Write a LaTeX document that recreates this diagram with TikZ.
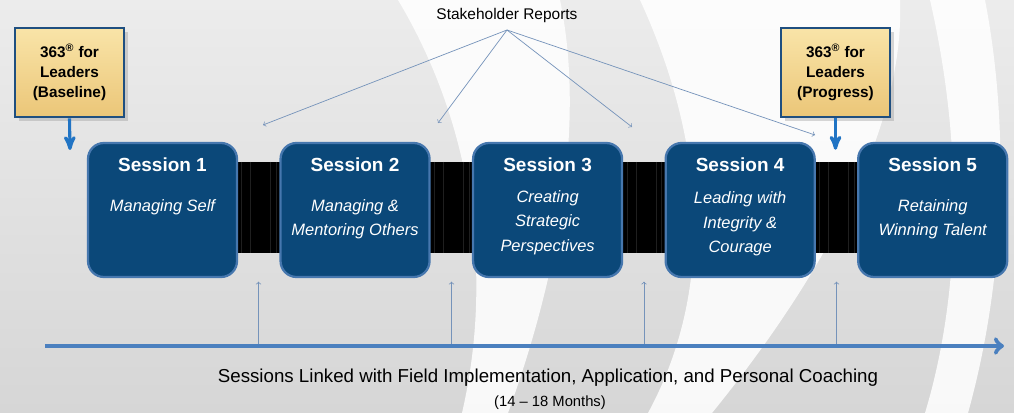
\documentclass[tikz,border=0pt]{standalone}
\usepackage{fontspec}
\setmainfont{Liberation Sans}
\usepackage{tikz}
\usetikzlibrary{arrows}
\usetikzlibrary{positioning,shapes,shadows}

\definecolor{navy}{HTML}{0B4879}
\definecolor{glow}{HTML}{4677AE}
\definecolor{tanlight}{HTML}{F9E4A8}
\definecolor{tandark}{HTML}{EBC678}
\definecolor{tanrim}{HTML}{1F4F80}
\definecolor{timeblue}{HTML}{4B80BF}
\definecolor{thinblue}{HTML}{7593BA}
\definecolor{dropblue}{HTML}{2174C4}
\definecolor{bgtop}{HTML}{ECECEC}
\definecolor{bgbottom}{HTML}{D6D6D6}

\tikzset{
  session/.style={rectangle, rounded corners=0.4cm, fill=navy, draw=glow,
    line width=1.6pt, minimum width=3.725cm, minimum height=3.35cm},
  stitle/.style={text=white, inner sep=0pt,
    font=\fontsize{13.5}{16}\selectfont\bfseries},
  stext/.style={text=white, inner sep=0pt, align=center,
    font=\fontsize{11.7}{17.4}\selectfont\itshape},
  gap/.style={rectangle, fill=black, inner sep=0pt,
    minimum width=1.075cm, minimum height=2.275cm,
    path picture={
      \foreach \dx in {-0.42,-0.2,0.3,0.44}
        \draw[black!88!white, line width=0.3pt]
          ([xshift=\dx cm]path picture bounding box.north) --
          ([xshift=\dx cm]path picture bounding box.south);}},
  survey/.style={rectangle, top color=tanlight, bottom color=tandark,
    draw=tanrim, line width=2pt, minimum width=2.725cm,
    minimum height=2.225cm, align=center,
    font=\fontsize{10.9}{14.2}\selectfont\bfseries,
    drop shadow={opacity=0.3}},
  report/.style={->, draw=thinblue, line width=0.5pt},
  link/.style={->, draw=thinblue, line width=0.5pt, shorten >=2.5pt},
  drop/.style={->, >=stealth', draw=dropblue, line width=2.2pt},
  timeline/.style={->, >=to, draw=timeblue, line width=3.2pt}
}

\begin{document}
\begin{tikzpicture}[x=0.025cm, y=-0.025cm, node distance=4.8125cm]

  % backdrop with the light curved bands
  \useasboundingbox (0,0) rectangle (1014,413);
  \shade[top color=bgtop, bottom color=bgbottom] (0,0) rectangle (1014,413);
  \fill[white, opacity=0.85] (398,0) .. controls (470,120) and (495,270) .. (462,413)
    -- (508,413) .. controls (560,270) and (585,120) .. (560,0) -- cycle;
  \fill[white, opacity=0.85] (640,0) .. controls (700,130) and (720,280) .. (648,413)
    -- (712,413) .. controls (820,280) and (905,130) .. (900,0) -- cycle;
  \fill[white, opacity=0.85] (930,0) .. controls (960,130) and (965,280) .. (925,413)
    -- (968,413) .. controls (1005,280) and (1010,130) .. (985,0) -- cycle;

  % black links between the sessions
  \node[gap] (g1) at (258.5,207.5) {};
  \node[gap] (g2) at (451.5,207.5) {};
  \node[gap] (g3) at (644,207.5) {};
  \node[gap] (g4) at (836.5,207.5) {};

  % sessions
  \node[session] (s1) at (162.5,210) {};
  \node[session] (s2) [right of=s1] {};
  \node[session] (s3) [right of=s2] {};
  \node[session] (s4) [right of=s3] {};
  \node[session] (s5) [right of=s4] {};

  \node[stitle] (t1) at ([yshift=-0.5625cm]s1.north) {Session 1};
  \node[stitle] (t2) at ([yshift=-0.5625cm]s2.north) {Session 2};
  \node[stitle] (t3) at ([yshift=-0.5625cm]s3.north) {Session 3};
  \node[stitle] (t4) at ([yshift=-0.5625cm]s4.north) {Session 4};
  \node[stitle] (t5) at ([yshift=-0.5625cm]s5.north) {Session 5};

  \node[stext] (d1) at ([yshift=0.075cm]s1.center) {Managing Self};
  \node[stext] (d2) at ([yshift=-0.2375cm]s2.center) {Managing \&\\Mentoring Others};
  \node[stext] (d3) at ([yshift=-0.3125cm]s3.center) {Creating\\Strategic\\Perspectives};
  \node[stext] (d4) at ([yshift=-0.35cm]s4.center) {Leading with\\Integrity \&\\Courage};
  \node[stext] (d5) at ([yshift=-0.2375cm]s5.center) {Retaining\\Winning Talent};

  % 363 surveys
  \node[survey] (base) at (69.5,72.5) {363\textsuperscript{®} for\\Leaders\\(Baseline)};
  \node[survey] (prog) at (835.5,72.5) {363\textsuperscript{®} for\\Leaders\\(Progress)};
  \coordinate (bend) at (70,150);
  \draw[drop] (base.south) -- (bend);
  \draw[drop, shorten >=0.3cm] (prog.south) -- (prog.south |- g4.north);

  % stakeholder reports
  \node[font=\fontsize{11}{13}\selectfont] (sh) at (507,16) {Stakeholder Reports};
  \coordinate (shfoot) at (507,30);
  \coordinate (r1) at (263,125);
  \coordinate (r2) at (438,123);
  \coordinate (r3) at (632,127);
  \coordinate (r4) at (815,135);
  \draw[report] (shfoot) -- (r1);
  \draw[report] (shfoot) -- (r2);
  \draw[report] (shfoot) -- (r3);
  \draw[report] (shfoot) -- (r4);

  % time line
  \coordinate (tstart) at (45,346);
  \coordinate (tend) at (1004,346);
  \draw[link] (g1 |- tstart) -- (g1 |- s1.south);
  \draw[link] (g2 |- tstart) -- (g2 |- s2.south);
  \draw[link] (g3 |- tstart) -- (g3 |- s3.south);
  \draw[link] (g4 |- tstart) -- (g4 |- s4.south);
  \draw[timeline] (tstart) -- (tend);

  \node[font=\fontsize{13.3}{16}\selectfont] (note) at (548,378)
    {Sessions Linked with Field Implementation, Application, and Personal Coaching};
  \node[font=\fontsize{10.5}{13}\selectfont] (span) at (550,403) {(14 -- 18 Months)};

\end{tikzpicture}
\end{document}
